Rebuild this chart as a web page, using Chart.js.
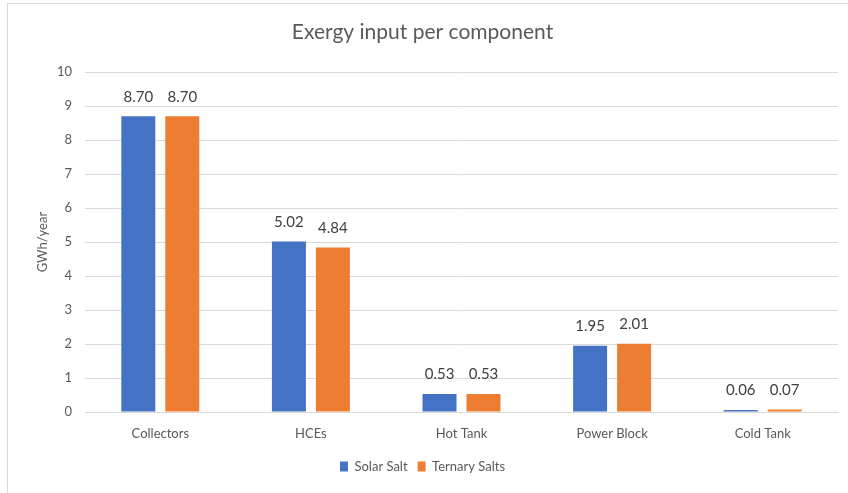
<!DOCTYPE html>
<html>
<head>
<meta charset="utf-8">
<script src="https://cdn.jsdelivr.net/npm/chart.js@4"></script>
<style>
  html, body { margin: 0; padding: 0; background: #fff; }
  #wrap { position: relative; width: 848px; height: 493px; overflow: hidden; }
  #frame { position: absolute; left: 7px; top: 3px; width: 900px; height: 600px;
           border-left: 1px solid #d9d9d9; border-top: 1px solid #d9d9d9; }
  canvas { position: absolute; left: 0; top: 0; }
</style>
</head>
<body>
<div id="wrap">
  <div id="frame"></div>
  <canvas id="myChart" width="848" height="493"></canvas>
</div>
<script>
const categories = ['Collectors', 'HCEs', 'Hot Tank', 'Power Block', 'Cold Tank'];
const solarSalt = [8.70, 5.02, 0.53, 1.95, 0.06];
const ternarySalts = [8.70, 4.84, 0.53, 2.01, 0.07];
const yTicks = [0, 1, 2, 3, 4, 5, 6, 7, 8, 9, 10];

const fontFamily = 'Lato, "Open Sans", sans-serif';

// draws the value above each bar, like Excel data labels
const valueLabels = {
    id: 'valueLabels',
    afterDatasetsDraw(chart) {
        const ctx = chart.ctx;
        ctx.save();
        ctx.font = '15px ' + fontFamily;
        ctx.fillStyle = '#404040';
        ctx.textAlign = 'center';
        ctx.textBaseline = 'bottom';
        chart.data.datasets.forEach((ds, i) => {
            chart.getDatasetMeta(i).data.forEach((bar, j) => {
                ctx.fillText(ds.data[j].toFixed(2), bar.x, bar.y - 12);
            });
        });
        ctx.restore();
    }
};

const ctx = document.getElementById('myChart').getContext('2d');
const myChart = new Chart(ctx, {
    type: 'bar',
    data: {
        labels: categories,
        datasets: [{
            label: 'Solar Salt',
            data: solarSalt,
            backgroundColor: '#4472C4'
        }, {
            label: 'Ternary Salts',
            data: ternarySalts,
            backgroundColor: '#ED7D31'
        }]
    },
    options: {
        responsive: false,
        animation: false,
        layout: { padding: { left: 7, right: 10, top: 0, bottom: 10 } },
        datasets: {
            bar: { categoryPercentage: 0.584, barPercentage: 0.773 }
        },
        plugins: {
            title: {
                display: true,
                text: 'Exergy input per component',
                color: '#595959',
                font: { family: fontFamily, size: 21, weight: 'normal' },
                padding: { top: 20, bottom: 27 }
            },
            legend: {
                position: 'bottom',
                labels: {
                    color: '#595959',
                    font: { family: fontFamily, size: 13 },
                    boxWidth: 8,
                    boxHeight: 10,
                    padding: 10
                }
            },
            tooltip: { enabled: false }
        },
        scales: {
            x: {
                grid: { display: false },
                border: { color: '#d9d9d9' },
                ticks: { color: '#595959', font: { family: fontFamily, size: 13 }, padding: 6 },
                afterFit: s => { s.height = 38; }
            },
            y: {
                min: 0,
                max: 10,
                afterBuildTicks: s => { s.ticks = yTicks.map(v => ({ value: v })); },
                grid: { color: '#d9d9d9', drawTicks: false },
                border: { display: false },
                ticks: { color: '#595959', font: { family: fontFamily, size: 13 }, padding: 13 },
                title: {
                    display: true,
                    text: 'GWh/year',
                    color: '#595959',
                    font: { family: fontFamily, size: 13 },
                    padding: { top: 28, bottom: 4 }
                },
                afterFit: s => { s.width = 78; }
            }
        }
    },
    plugins: [valueLabels]
});
</script>
</body>
</html>
